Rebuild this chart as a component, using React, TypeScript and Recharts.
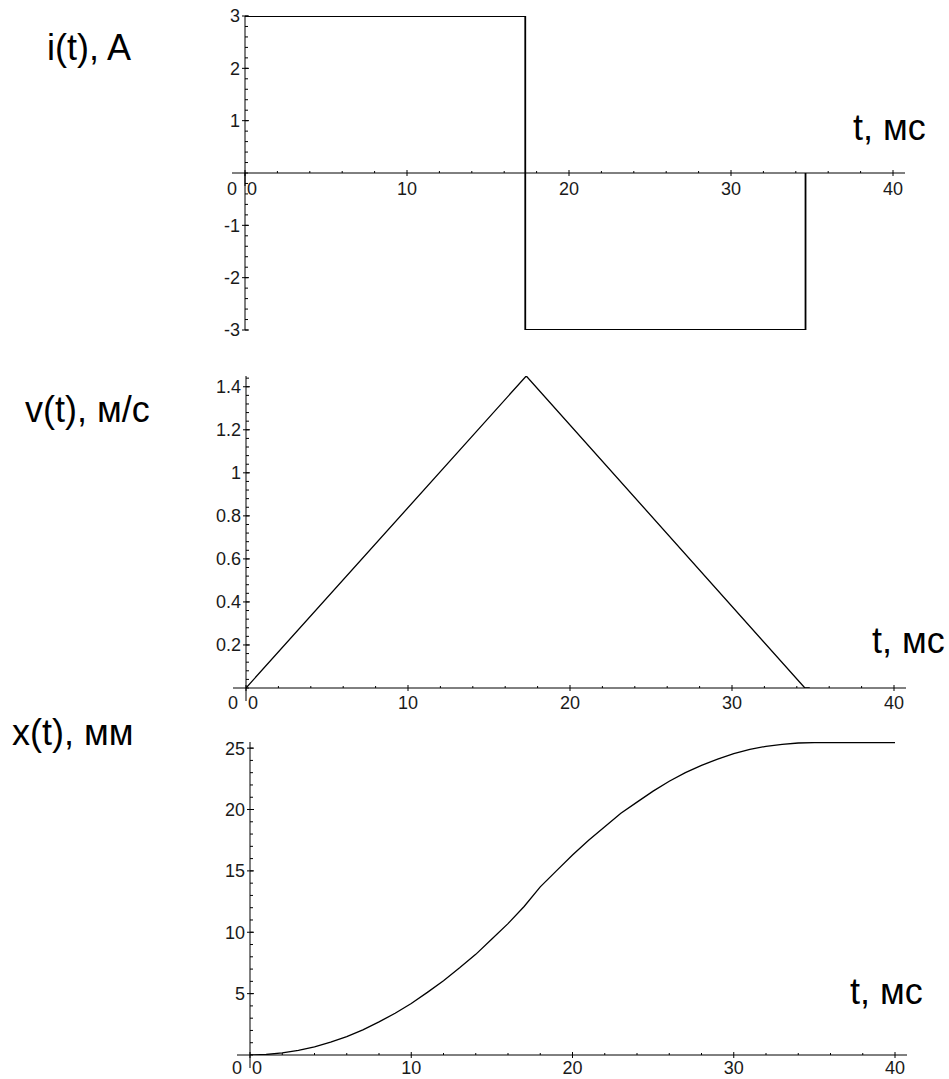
import React from "react";
import { LineChart, Line, XAxis, YAxis, ReferenceLine } from "recharts";

// i(t), A — rectangular current pulse
const iTime = [0, 17.3, 17.3, 34.6, 34.6];
const iValue = [3, 3, -3, -3, 0];

// v(t), м/с — triangular velocity
const vTime = [0, 17.3, 34.5, 34.8];
const vValue = [0, 1.45, 0, 0];

// x(t), мм — displacement
const xTime = [0, 1, 2, 3, 4, 5, 6, 7, 8, 9, 10, 11, 12, 13, 14, 15, 16, 17, 18, 19, 20, 21, 22, 23, 24, 25, 26, 27, 28, 29, 30, 31, 32, 33, 34, 35, 40];
const xValue = [0, 0.04, 0.17, 0.38, 0.67, 1.05, 1.5, 2.05, 2.7, 3.4, 4.2, 5.1, 6.05, 7.1, 8.2, 9.45, 10.7, 12.1, 13.7, 15.0, 16.3, 17.5, 18.6, 19.7, 20.6, 21.5, 22.3, 23.0, 23.6, 24.1, 24.55, 24.9, 25.15, 25.3, 25.42, 25.45, 25.45];

const tTicks = [0, 10, 20, 30, 40];
const iTicks = [-3, -2, -1, 1, 2, 3];
const vTicks = [0.2, 0.4, 0.6, 0.8, 1, 1.2, 1.4];
const xTicks = [5, 10, 15, 20, 25];

const FONT = '"Liberation Sans", Arial, sans-serif';
const TICK_SIZE = 18;
const Y_AXIS_W = 40;
const PAGE_W = 949;

const range = (from: number, to: number, step: number) => {
  const out: number[] = [];
  for (let v = from; v <= to + 1e-9; v += step) out.push(+v.toFixed(4));
  return out;
};

const toRows = (ts: number[], ys: number[]) => ts.map((t, k) => ({ t, y: ys[k] }));

const tickText = (text: string, anchor: "start" | "middle" | "end", dx: number, dy: number) =>
  (props: any) => {
    const vb = props.viewBox || { x: 0, y: 0 };
    return (
      <text x={vb.x + dx} y={vb.y + dy} textAnchor={anchor} fontSize={TICK_SIZE} fontFamily={FONT} fill="#1a1a1a">
        {text}
      </text>
    );
  };

type PlotCfg = {
  id: string;
  top: number;
  height: number;
  x0: number; // pixel of t = 0
  x1: number; // pixel of t = 40
  marginTop: number;
  plotH: number;
  labelGap: number; // baseline of t labels below the axis
  yDomain: [number, number];
  yTicks: number[];
  yMinorStep: number;
  data: { t: number; y: number }[];
  lineWidth: number;
};

// Maple-style axes: both axes cross at the origin, ticks cross the axis line
function axisMarks(c: PlotCfg) {
  const pxT = (c.x1 - c.x0) / 40;
  const pxY = c.plotH / (c.yDomain[1] - c.yDomain[0]);
  const out: React.ReactNode[] = [];
  const seg = (key: string, a: any, b: any, label?: any) => (
    <ReferenceLine key={key} segment={[a, b]} stroke="#000" strokeWidth={1} ifOverflow="visible" label={label} />
  );

  out.push(seg(c.id + "-xaxis", { x: -13 / pxT, y: 0 }, { x: 40 + 12 / pxT, y: 0 }));
  out.push(seg(c.id + "-ystub", { x: 0, y: 0 }, { x: 0, y: -13 / pxY }, tickText("0", "end", -8, c.labelGap)));

  range(2, 38, 2)
    .filter((v) => v % 10 !== 0)
    .forEach((v) => out.push(seg(c.id + "-tm" + v, { x: v, y: 0 }, { x: v, y: 2 / pxY })));

  tTicks.forEach((v) =>
    out.push(
      seg(
        c.id + "-tM" + v,
        { x: v, y: 3 / pxY },
        { x: v, y: -3 / pxY },
        v === 0 ? tickText("0", "start", 2, c.labelGap + 3) : tickText(String(v), "middle", 0, c.labelGap + 3)
      )
    )
  );

  range(c.yDomain[0], c.yDomain[1], c.yMinorStep).forEach((v, k) =>
    out.push(seg(c.id + "-ym" + k, { x: 0, y: v }, { x: 3 / pxT, y: v }))
  );
  c.yTicks.forEach((v) => out.push(seg(c.id + "-yM" + v, { x: 0, y: v }, { x: 4 / pxT, y: v })));

  return out;
}

function Plot({ c }: { c: PlotCfg }) {
  const margin = {
    top: c.marginTop,
    bottom: c.height - c.marginTop - c.plotH,
    left: c.x0 - Y_AXIS_W,
    right: PAGE_W - c.x1,
  };
  return (
    <div style={{ position: "absolute", left: 0, top: c.top }}>
      <LineChart width={PAGE_W} height={c.height} data={c.data} margin={margin}>
        <XAxis dataKey="t" type="number" domain={[0, 40]} allowDataOverflow hide />
        <YAxis
          type="number"
          domain={c.yDomain}
          allowDataOverflow
          ticks={c.yTicks}
          width={Y_AXIS_W}
          axisLine={{ stroke: "#000", strokeWidth: 1 }}
          tickLine={{ stroke: "#000", strokeWidth: 1 }}
          tickSize={3}
          tickMargin={2}
          tick={{ fill: "#1a1a1a", fontSize: TICK_SIZE, fontFamily: FONT }}
          interval={0}
        />
        {axisMarks(c)}
        <Line
          type="linear"
          dataKey="y"
          stroke="#000"
          strokeWidth={c.lineWidth}
          dot={false}
          isAnimationActive={false}
        />
      </LineChart>
    </div>
  );
}

const plots: PlotCfg[] = [
  {
    id: "i",
    top: 0,
    height: 345,
    x0: 245,
    x1: 893,
    marginTop: 16,
    plotH: 314,
    labelGap: 22,
    yDomain: [-3, 3],
    yTicks: iTicks,
    yMinorStep: 0.2,
    data: toRows(iTime, iValue),
    lineWidth: 1.8,
  },
  {
    id: "v",
    top: 350,
    height: 365,
    x0: 246,
    x1: 894,
    marginTop: 26,
    plotH: 312,
    labelGap: 21,
    yDomain: [0, 1.45],
    yTicks: vTicks,
    yMinorStep: 0.04,
    data: toRows(vTime, vValue),
    lineWidth: 1.3,
  },
  {
    id: "x",
    top: 715,
    height: 364,
    x0: 250,
    x1: 895,
    marginTop: 27,
    plotH: 313,
    labelGap: 19,
    yDomain: [0, 25.5],
    yTicks: xTicks,
    yMinorStep: 1,
    data: toRows(xTime, xValue),
    lineWidth: 1.3,
  },
];

const captions = [
  { text: "i(t), A", left: 47, baseline: 60 },
  { text: "t, мс", left: 853, baseline: 140 },
  { text: "v(t), м/с", left: 25, baseline: 422 },
  { text: "t, мс", left: 872, baseline: 653 },
  { text: "x(t), мм", left: 12, baseline: 745 },
  { text: "t, мс", left: 850, baseline: 1004 },
];

const CAPTION_SIZE = 36;

export default function App() {
  return (
    <div
      style={{
        position: "absolute",
        left: 0,
        top: 0,
        width: PAGE_W,
        height: 1079,
        overflow: "hidden",
        background: "#fff",
      }}
    >
      {plots.map((c) => (
        <Plot key={c.id} c={c} />
      ))}
      {captions.map((c, k) => (
        <div
          key={k}
          style={{
            position: "absolute",
            left: c.left,
            top: c.baseline - CAPTION_SIZE * 0.8465,
            fontFamily: FONT,
            fontSize: CAPTION_SIZE,
            lineHeight: `${CAPTION_SIZE}px`,
            color: "#000",
            whiteSpace: "nowrap",
          }}
        >
          {c.text}
        </div>
      ))}
    </div>
  );
}
